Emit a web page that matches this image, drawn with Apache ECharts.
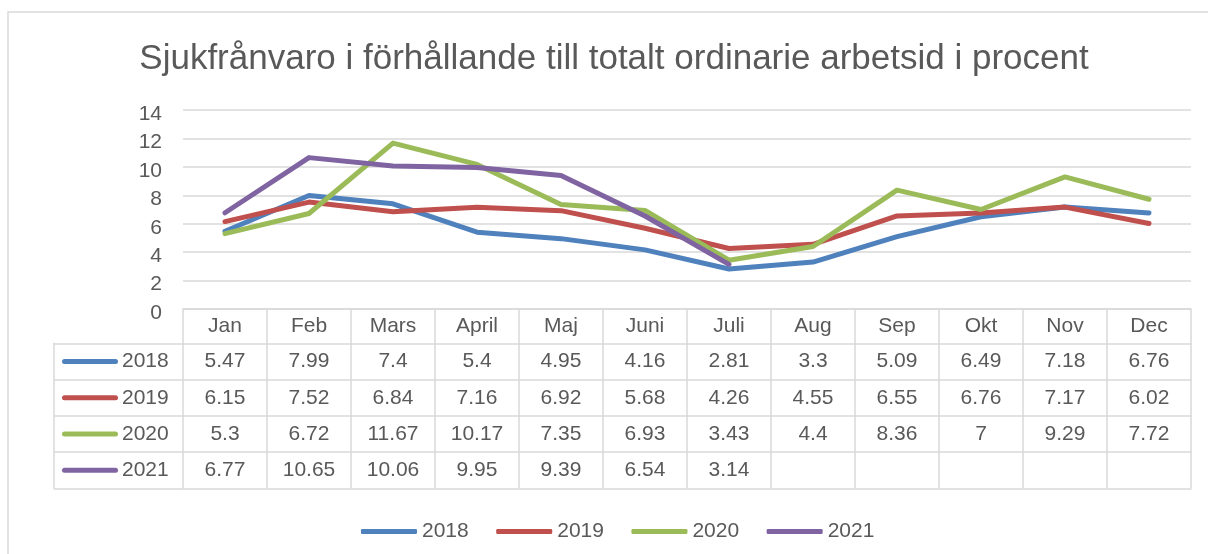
<!DOCTYPE html>
<html>
<head>
<meta charset="utf-8">
<script src="https://cdn.jsdelivr.net/npm/echarts@6/dist/echarts.min.js"></script>
<style>
  html, body { margin: 0; padding: 0; background: #fff; }
  #chart { width: 1208px; height: 554px; }
</style>
</head>
<body>
<div id="chart"></div>
<script>
// data
const months = ['Jan', 'Feb', 'Mars', 'April', 'Maj', 'Juni', 'Juli', 'Aug', 'Sep', 'Okt', 'Nov', 'Dec']
const years = ['2018', '2019', '2020', '2021']
const s2018 = [5.47, 7.99, 7.4, 5.4, 4.95, 4.16, 2.81, 3.3, 5.09, 6.49, 7.18, 6.76]
const s2019 = [6.15, 7.52, 6.84, 7.16, 6.92, 5.68, 4.26, 4.55, 6.55, 6.76, 7.17, 6.02]
const s2020 = [5.3, 6.72, 11.67, 10.17, 7.35, 6.93, 3.43, 4.4, 8.36, 7, 9.29, 7.72]
const s2021 = [6.77, 10.65, 10.06, 9.95, 9.39, 6.54, 3.14, null, null, null, null, null]
const yTicks = { min: 0, max: 14, interval: 2 }

const allSeries = [s2018, s2019, s2020, s2021]
const colors = ['#4F81BD', '#C0504D', '#9BBB59', '#8064A2']

const font = 'Liberation Sans, Arial, sans-serif'
const textColor = '#595959'
const border = '#d9d9d9'

const headH = 34.3
const rowH = 36.3

// one category axis per table row, stacked below the plot
const tableAxis = (data, offset, height) => ({
  type: 'category',
  gridIndex: 0,
  position: 'bottom',
  offset: offset,
  data: data,
  boundaryGap: true,
  axisLine: { show: true, lineStyle: { color: border, width: 1.5 } },
  axisTick: { show: height > 0, length: height, interval: 0, lineStyle: { color: border, width: 1.5 } },
  axisLabel: {
    show: height > 0,
    interval: 0,
    margin: height / 2 - 11,
    lineHeight: 22,
    fontFamily: font,
    fontSize: 21,
    color: textColor
  },
  splitLine: { show: false }
})

const xAxes = [tableAxis(months, 0, headH)]
allSeries.forEach((s, i) => {
  xAxes.push(tableAxis(s.map(v => v == null ? '' : String(v)), headH + rowH * i, rowH))
})
xAxes.push(tableAxis(months.map(() => ''), headH + rowH * 4, 0))
// left column of the table
xAxes.push({ type: 'value', gridIndex: 1, show: false })

const richKeys = {}
years.forEach((y, i) => {
  richKeys['k' + i] = { width: 56, height: 5, backgroundColor: colors[i], borderRadius: 3 }
})
richKeys.t = { fontFamily: font, fontSize: 21, color: textColor, padding: [0, 0, 0, 4] }

const option = {
  animation: false,
  graphic: [{
    type: 'rect',
    shape: { x: 8, y: 12, width: 1400, height: 800 },
    style: { fill: 'none', stroke: border, lineWidth: 1.5 },
    silent: true
  }],
  title: {
    text: 'Sjukfrånvaro i förhållande till totalt ordinarie arbetsid i procent',
    left: 609,
    textAlign: 'center',
    top: 37,
    textStyle: { fontFamily: font, fontSize: 35, fontWeight: 'normal', color: textColor }
  },
  legend: {
    data: years,
    left: 356,
    top: 516,
    icon: 'roundRect',
    itemWidth: 56,
    itemHeight: 5,
    itemGap: 27.5,
    textStyle: { fontFamily: font, fontSize: 21, color: textColor }
  },
  grid: [
    { left: 183, right: 17, top: 110, bottom: 245, containLabel: false },
    { left: 54, width: 129, top: 110 + 199 + headH, height: rowH * 4, containLabel: false }
  ],
  xAxis: xAxes,
  yAxis: [
    {
      type: 'value',
      gridIndex: 0,
      min: yTicks.min,
      max: yTicks.max,
      interval: yTicks.interval,
      axisLine: { show: false },
      axisTick: { show: false },
      axisLabel: { margin: 21, verticalAlign: 'top', lineHeight: 8, fontFamily: font, fontSize: 21, color: textColor },
      splitLine: { lineStyle: { color: border, width: 1.5 } }
    },
    {
      type: 'category',
      gridIndex: 1,
      inverse: true,
      data: years,
      boundaryGap: true,
      axisLine: { show: true, lineStyle: { color: border, width: 1.5 } },
      axisTick: { show: false },
      axisLabel: {
        inside: true,
        margin: 8,
        align: 'left',
        formatter: (v, i) => '{k' + i + '|}{t|' + v + '}',
        rich: richKeys
      },
      splitLine: { show: true, interval: 0, lineStyle: { color: border, width: 1.5 } }
    }
  ],
  series: allSeries.map((s, i) => ({
    name: years[i],
    type: 'line',
    xAxisIndex: 0,
    yAxisIndex: 0,
    data: s,
    symbol: 'none',
    color: colors[i],
    lineStyle: { width: 5, color: colors[i], cap: 'round', join: 'round' }
  }))
}

const chart = echarts.init(document.getElementById('chart'))
chart.setOption(option)
</script>
</body>
</html>
